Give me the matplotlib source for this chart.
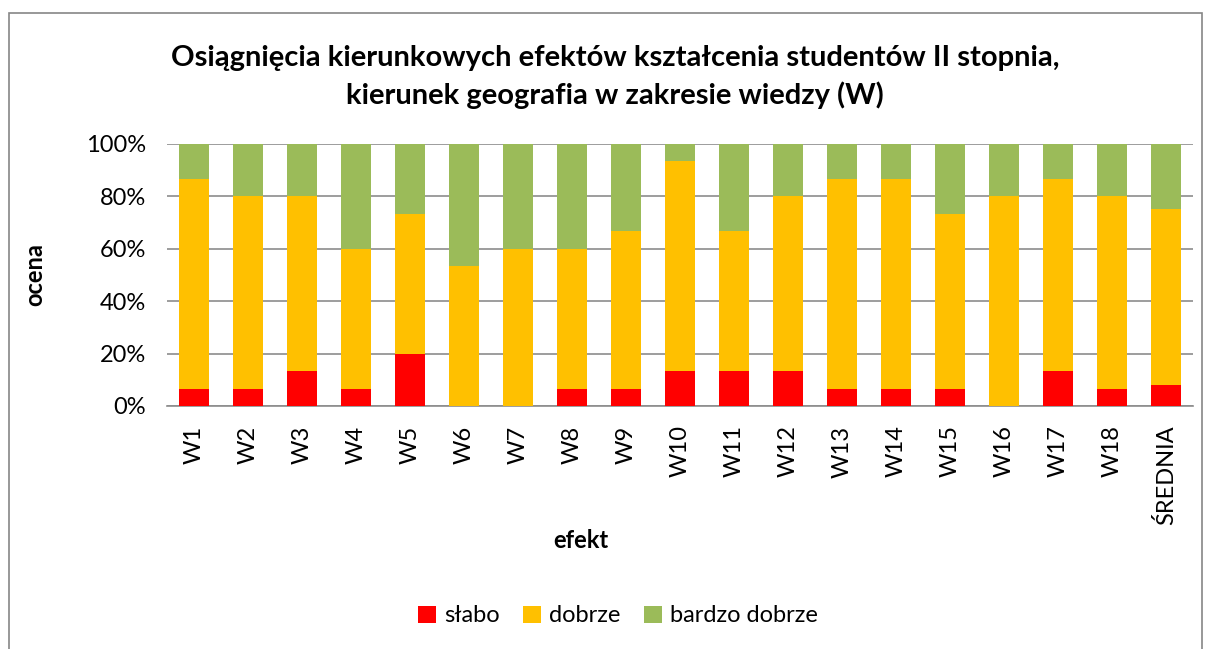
import matplotlib
matplotlib.use("Agg")
import matplotlib.pyplot as plt
import numpy as np
from matplotlib.patches import Rectangle

categories = ["W1","W2","W3","W4","W5","W6","W7","W8","W9","W10","W11","W12",
              "W13","W14","W15","W16","W17","W18","ŚREDNIA"]
slabo   = [6.67, 6.67, 13.33, 6.67, 20.0, 0.0, 0.0, 6.67, 6.67, 13.33, 13.33, 13.33,
           6.67, 6.67, 6.67, 0.0, 13.33, 6.67, 8.1]
dobrze  = [80.0, 73.33, 66.67, 53.33, 53.33, 53.33, 60.0, 53.33, 60.0, 80.0, 53.33, 66.67,
           80.0, 80.0, 66.67, 80.0, 73.33, 73.33, 67.1]
bardzo  = [13.33, 20.0, 20.0, 40.0, 26.67, 46.67, 40.0, 40.0, 33.33, 6.67, 33.33, 20.0,
           13.33, 13.33, 26.67, 20.0, 13.33, 20.0, 24.8]
series_names = ["słabo", "dobrze", "bardzo dobrze"]
colors = ["#FF0000", "#FFC000", "#9BBB59"]

plt.rcParams['font.family'] = ['Lato', 'DejaVu Sans']

W, H = 1208, 649
fig = plt.figure(figsize=(W/100, H/100), dpi=100)
fig.patches.append(Rectangle((9/W, -0.05), (1202-9)/W, 1-13/H+0.05, transform=fig.transFigure,
                             fill=False, edgecolor="#868686", linewidth=1.2))
ax = fig.add_axes([167/W, 1-406/H, (1193-167)/W, (406-144)/H])

x = np.arange(len(categories))
s = np.array(slabo); d = np.array(dobrze); b = np.array(bardzo)
tot = s + d + b
s, d, b = s/tot*100, d/tot*100, b/tot*100
w = 0.56
ax.bar(x, s, w, color=colors[0], label=series_names[0], zorder=3)
ax.bar(x, d, w, bottom=s, color=colors[1], label=series_names[1], zorder=3)
ax.bar(x, b, w, bottom=s+d, color=colors[2], label=series_names[2], zorder=3)

ax.set_xlim(-0.5, len(categories)-0.5)
ax.set_ylim(0, 100)
ax.set_yticks(range(0, 101, 20))
ax.set_yticklabels([f"{v}%" for v in range(0, 101, 20)], fontsize=17)
ax.set_xticks(x)
ax.set_xticklabels(categories, rotation=90, fontsize=17)
ax.tick_params(axis='y', length=0, pad=15)
ax.tick_params(axis='x', length=0, pad=14)
ax.yaxis.grid(True, color="#8C8C8C", linewidth=1.2, zorder=0)
for sp in ["top", "right", "left"]:
    ax.spines[sp].set_visible(False)
ax.spines["bottom"].set_color("#8C8C8C")
ax.spines["bottom"].set_linewidth(1.2)

fig.text(35/W, 1-275/H, "ocena", rotation=90, ha="center", va="center", fontsize=17, fontweight="bold")
fig.text(581/W, 1-541/H, "efekt", ha="center", va="center", fontsize=17, fontweight="bold")

fig.text(615/W, 1-77/H, "Osiągnięcia kierunkowych efektów kształcenia studentów II stopnia,\nkierunek geografia w zakresie wiedzy (W)",
         ha="center", va="center", fontsize=21, fontweight="bold", linespacing=1.45)

fig.legend(loc="center", bbox_to_anchor=(618/W, 1-616/H), ncol=3, frameon=False,
           fontsize=17, handlelength=0.75, handleheight=0.75, columnspacing=1.0, handletextpad=0.35)

fig.savefig("out.png", dpi=100)
